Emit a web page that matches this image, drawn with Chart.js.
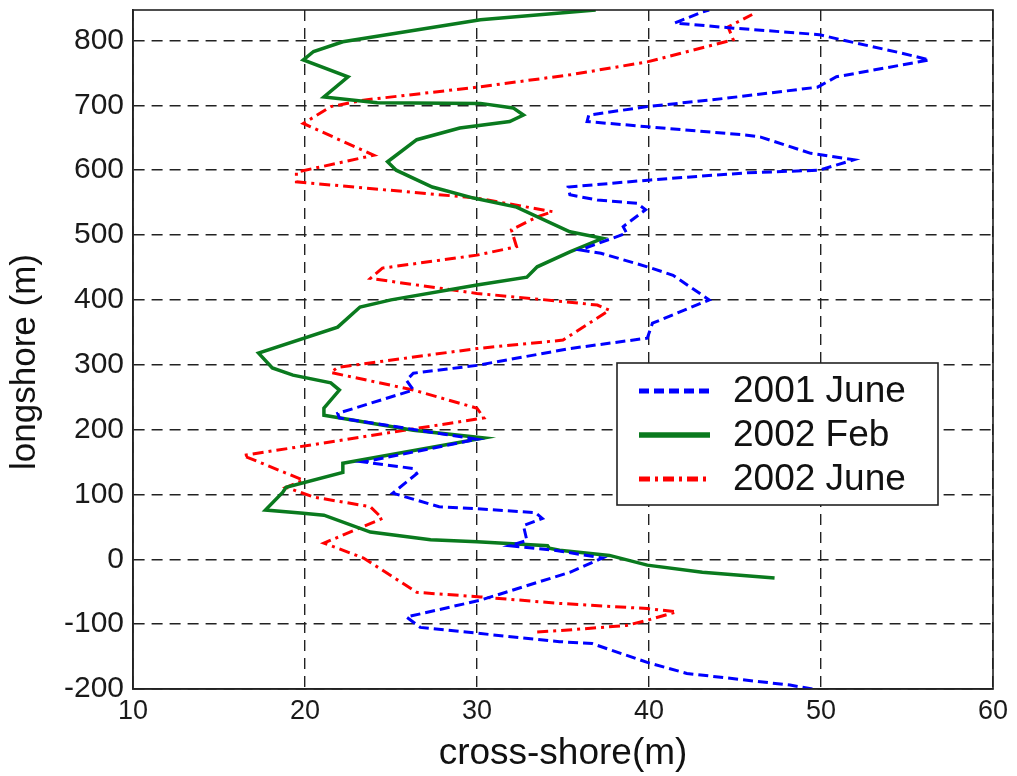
<!DOCTYPE html>
<html>
<head>
<meta charset="utf-8">
<script src="https://cdn.jsdelivr.net/npm/chart.js@4.4.1/dist/chart.umd.min.js"></script>
<style>
  html, body { margin: 0; padding: 0; background: #fff; }
  #wrap { width: 1017px; height: 776px; }
</style>
</head>
<body>
<div id="wrap"><canvas id="shoreChart" width="1017" height="776"></canvas></div>
<script>
// longshore position (m) and cross-shore distance (m)
const june2001Y = [-200,-194,-176,-159,-130,-127,-105,-89,-63,-20,2,14,21,29,52,63,72,78,81,102,132,140,150,185,218,225,261,276,287,299,325,341,364,400,438,451,472,477,503,513,539,549,554,562,574,585,596,600,616,626,651,654,667,675,685,698,711,728,744,770,781,804,809,819,827,844,847];
const june2001X = [49.5,48.2,42.2,39.9,36.7,34.8,26.7,25.9,30.2,35.4,37.3,34.5,31.9,32.9,32.7,33.8,33.4,30,27.8,25.1,26.5,26.3,23.4,30,22,21.9,26.3,25.9,26.3,30,35.4,39.9,40.2,43.5,41.4,39.9,37.2,36,38.7,38.5,39.8,39.3,37,35.4,35.3,40.1,45.7,49.9,51.9,49.4,46.5,45.7,39.9,36.4,36.5,39.9,44.5,49.8,50.9,56.3,54.6,50.7,49.9,44.9,41.5,43.1,43.5];

const feb2002Y = [-29,-20,-9,6,14,17,21,27,30,42,68,71,76,103,111,134,148,187,199,222,233,261,272,284,295,318,358,389,400,423,435,451,474,495,505,543,557,574,600,613,647,665,675,685,696,703,704,713,744,770,783,798,832,847];
const feb2002X = [47.3,43.1,39.9,37.7,34.8,34.2,34.1,30,27.3,23.8,21.1,19.9,17.7,18.7,18.9,22.2,22.2,30.4,26.3,21.1,21.1,22,21.5,19.3,18.1,17.3,21.9,23.2,25,30,32.9,33.5,35.4,37.3,35.4,32.3,29.8,27.4,25.3,24.8,26.5,29,31.9,32.7,32.1,30.2,24.2,21.1,22.5,19.9,20.5,22.2,30.2,36.9];

const june2002Y = [-112,-110,-102,-94,-81,-76,-68,-58,-51,2,25,63,81,96,111,122,160,218,233,261,288,296,325,338,384,392,397,410,433,449,469,482,508,528,536,557,582,597,623,672,698,708,728,747,767,801,821,840];
const june2002X = [33.5,34.8,38.7,39.9,41.6,39.9,34.8,30.2,26.5,23.4,21.1,24.5,23.8,20.5,18.9,19.9,16.4,30.4,30,26.3,21.5,21.9,30,35,37.7,37,35.2,30,23.8,24.5,30,32.3,32,33.5,34.4,30,19.5,19.5,24,19.9,21.5,23.4,30,35.4,39.9,44.9,44.6,46];

const seriesNames = ['2001 June', '2002 Feb', '2002 June'];
const xTicks = [10, 20, 30, 40, 50, 60];
const yTicks = [-200, -100, 0, 100, 200, 300, 400, 500, 600, 700, 800];

const FONT = '"Liberation Sans", Arial, Helvetica, sans-serif';

function toPoints(xs, ys) {
  return xs.map((x, i) => ({ x: x, y: ys[i] }));
}

// frame round the plot area, the y title and the boxed legend
const framePlugin = {
  id: 'frameAndLegend',
  afterDatasetsDraw(chart) {
    const { ctx, chartArea: a } = chart;
    ctx.save();
    ctx.strokeStyle = '#222';
    ctx.lineWidth = 1.6;
    ctx.setLineDash([]);
    ctx.strokeRect(a.left, a.top, a.right - a.left, a.bottom - a.top);

    // y axis title
    ctx.save();
    ctx.translate(25, 362);
    ctx.rotate(-Math.PI / 2);
    ctx.fillStyle = '#111';
    ctx.font = '35px ' + FONT;
    ctx.textAlign = 'center';
    ctx.textBaseline = 'middle';
    ctx.fillText('longshore (m)', 0, 0);
    ctx.restore();

    // legend box
    const bx = 617, by = 363, bw = 321, bh = 142;
    ctx.fillStyle = '#fff';
    ctx.fillRect(bx, by, bw, bh);
    ctx.strokeRect(bx, by, bw, bh);
    const rows = [391, 435, 479];
    chart.data.datasets.forEach((ds, i) => {
      ctx.save();
      ctx.strokeStyle = ds.borderColor;
      ctx.lineWidth = ds.borderWidth + 2;
      ctx.setLineDash(ds.borderDash || []);
      ctx.beginPath();
      ctx.moveTo(639, rows[i]);
      ctx.lineTo(710, rows[i]);
      ctx.stroke();
      ctx.restore();
      ctx.fillStyle = '#111';
      ctx.font = '37px ' + FONT;
      ctx.textBaseline = 'middle';
      ctx.fillText(ds.label, 733, rows[i] + 1);
    });
    ctx.restore();
  }
};

const ctx = document.getElementById('shoreChart');
new Chart(ctx, {
  type: 'scatter',
  data: {
    datasets: [
      {
        label: seriesNames[0],
        data: toPoints(june2001X, june2001Y),
        showLine: true,
        borderColor: '#0000ff',
        borderWidth: 3,
        borderDash: [10, 5],
        pointRadius: 0,
        tension: 0
      },
      {
        label: seriesNames[1],
        data: toPoints(feb2002X, feb2002Y),
        showLine: true,
        borderColor: '#0a7a1e',
        borderWidth: 3.5,
        pointRadius: 0,
        tension: 0
      },
      {
        label: seriesNames[2],
        data: toPoints(june2002X, june2002Y),
        showLine: true,
        borderColor: '#ff0000',
        borderWidth: 3,
        borderDash: [11, 5, 3, 5],
        pointRadius: 0,
        tension: 0
      }
    ]
  },
  options: {
    responsive: false,
    animation: false,
    layout: { padding: { left: 0, right: 24, top: 10, bottom: 0 } },
    plugins: { legend: { display: false }, tooltip: { enabled: false } },
    scales: {
      x: {
        type: 'linear',
        min: 10,
        max: 60,
        afterBuildTicks: (scale) => { scale.ticks = xTicks.map(v => ({ value: v })); },
        afterFit: (scale) => { scale.height = 87; },
        ticks: {
          color: '#1a1a1a',
          font: { family: FONT, size: 27 },
          padding: 6,
          maxRotation: 0
        },
        grid: { color: '#222', lineWidth: 1.4, drawTicks: false },
        border: { display: true, color: '#222', width: 1.6, dash: [11, 7] },
        title: {
          display: true,
          text: 'cross-shore(m)',
          color: '#111',
          font: { family: FONT, size: 37 },
          padding: { top: 0, bottom: 0 }
        }
      },
      y: {
        type: 'linear',
        min: -200,
        max: 847,
        afterBuildTicks: (scale) => { scale.ticks = yTicks.map(v => ({ value: v })); },
        afterFit: (scale) => {
          scale.width = 133;
          scale.paddingTop = 0;
          scale.paddingBottom = 0;
        },
        ticks: {
          color: '#1a1a1a',
          font: { family: FONT, size: 30 },
          padding: 9
        },
        grid: { color: '#222', lineWidth: 1.4, drawTicks: false },
        border: { display: true, color: '#222', width: 1.6, dash: [11, 7] }
      }
    }
  },
  plugins: [framePlugin]
});
</script>
</body>
</html>
